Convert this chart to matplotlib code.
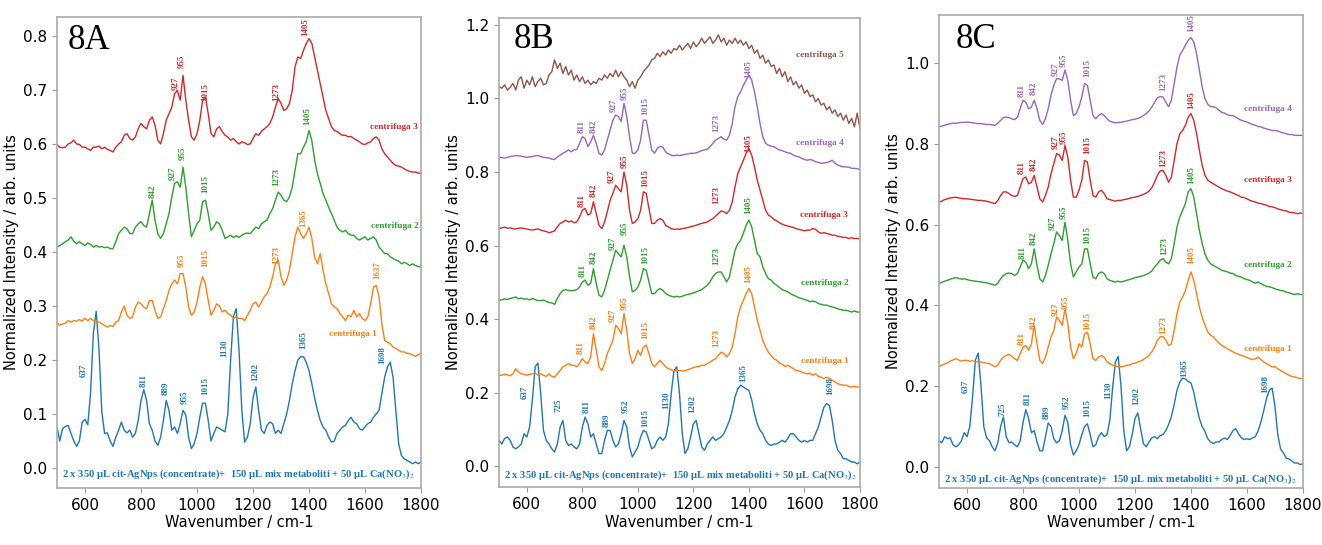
import numpy as np
import matplotlib
matplotlib.use("Agg")
import matplotlib.pyplot as plt

plt.rcParams['font.family'] = ['DejaVu Sans']
plt.rcParams['mathtext.fontset'] = 'stix'

# ---------------- data ----------------
wavenumber = np.arange(500, 1801, 10)

A_blue = [0.076, 0.05, 0.073, 0.077, 0.079, 0.064, 0.05, 0.04, 0.05, 0.085,
          0.09, 0.08, 0.14, 0.25, 0.29, 0.22, 0.105, 0.064, 0.065, 0.05,
          0.04, 0.057, 0.07, 0.085, 0.07, 0.065, 0.07, 0.057, 0.064, 0.088,
          0.125, 0.145, 0.125, 0.082, 0.07, 0.05, 0.042, 0.057, 0.088, 0.125,
          0.107, 0.07, 0.076, 0.064, 0.082, 0.107, 0.098, 0.057, 0.036, 0.045,
          0.064, 0.094, 0.12, 0.12, 0.088, 0.05, 0.064, 0.076, 0.073, 0.07,
          0.067, 0.1, 0.2, 0.28, 0.295, 0.218, 0.107, 0.048, 0.057, 0.082,
          0.13, 0.15, 0.107, 0.07, 0.064, 0.079, 0.085, 0.082, 0.064, 0.07,
          0.064, 0.082, 0.1, 0.125, 0.156, 0.18, 0.2, 0.206, 0.206, 0.196,
          0.18, 0.156, 0.13, 0.107, 0.088, 0.076, 0.07, 0.057, 0.048, 0.05,
          0.064, 0.07, 0.076, 0.079, 0.088, 0.094, 0.085, 0.082, 0.073, 0.07,
          0.076, 0.082, 0.085, 0.094, 0.1, 0.107, 0.138, 0.168, 0.187, 0.196,
          0.168, 0.107, 0.045, 0.023, 0.017, 0.014, 0.011, 0.008, 0.011, 0.008,
          0.011]
A_c1 = [0.27, 0.264, 0.267, 0.268, 0.273, 0.27, 0.273, 0.272, 0.275, 0.272,
        0.277, 0.273, 0.277, 0.273, 0.273, 0.27, 0.267, 0.264, 0.261, 0.264,
        0.262, 0.27, 0.273, 0.289, 0.3, 0.283, 0.277, 0.28, 0.298, 0.307,
        0.304, 0.298, 0.295, 0.31, 0.31, 0.292, 0.277, 0.28, 0.295, 0.31,
        0.329, 0.341, 0.348, 0.341, 0.36, 0.36, 0.335, 0.298, 0.283, 0.289,
        0.307, 0.335, 0.354, 0.341, 0.31, 0.283, 0.292, 0.304, 0.3, 0.289,
        0.292, 0.286, 0.283, 0.277, 0.28, 0.277, 0.277, 0.273, 0.283, 0.292,
        0.304, 0.307, 0.298, 0.307, 0.317, 0.323, 0.335, 0.354, 0.378, 0.385,
        0.354, 0.338, 0.348, 0.366, 0.397, 0.428, 0.446, 0.434, 0.425, 0.434,
        0.446, 0.425, 0.39, 0.378, 0.397, 0.366, 0.341, 0.323, 0.304, 0.298,
        0.295, 0.286, 0.28, 0.273, 0.283, 0.28, 0.292, 0.28, 0.286, 0.277,
        0.273, 0.28, 0.304, 0.335, 0.338, 0.317, 0.267, 0.236, 0.233, 0.23,
        0.224, 0.221, 0.218, 0.215, 0.215, 0.212, 0.212, 0.209, 0.207, 0.21,
        0.212]
A_c2 = [0.409, 0.412, 0.415, 0.419, 0.422, 0.428, 0.42, 0.415, 0.419, 0.415,
        0.412, 0.417, 0.414, 0.409, 0.412, 0.409, 0.41, 0.408, 0.409, 0.406,
        0.406, 0.419, 0.434, 0.44, 0.446, 0.443, 0.434, 0.434, 0.446, 0.452,
        0.456, 0.449, 0.446, 0.471, 0.496, 0.459, 0.434, 0.425, 0.434, 0.452,
        0.471, 0.502, 0.527, 0.53, 0.52, 0.557, 0.52, 0.471, 0.428, 0.44,
        0.452, 0.459, 0.493, 0.496, 0.471, 0.44, 0.446, 0.456, 0.452, 0.44,
        0.425, 0.428, 0.431, 0.427, 0.43, 0.427, 0.431, 0.434, 0.435, 0.434,
        0.44, 0.446, 0.443, 0.452, 0.456, 0.459, 0.471, 0.48, 0.496, 0.511,
        0.505, 0.496, 0.493, 0.502, 0.52, 0.551, 0.582, 0.582, 0.594, 0.604,
        0.625, 0.606, 0.57, 0.545, 0.527, 0.508, 0.496, 0.483, 0.471, 0.459,
        0.446, 0.44, 0.437, 0.44, 0.434, 0.431, 0.431, 0.425, 0.422, 0.425,
        0.428, 0.422, 0.425, 0.428, 0.422, 0.409, 0.403, 0.397, 0.397, 0.391,
        0.388, 0.385, 0.383, 0.378, 0.381, 0.378, 0.375, 0.378, 0.375, 0.373,
        0.372]
A_c3 = [0.598, 0.594, 0.593, 0.594, 0.6, 0.602, 0.607, 0.6, 0.599, 0.594,
        0.594, 0.591, 0.588, 0.594, 0.594, 0.596, 0.591, 0.594, 0.59, 0.588,
        0.585, 0.594, 0.6, 0.604, 0.616, 0.619, 0.61, 0.607, 0.613, 0.628,
        0.638, 0.632, 0.628, 0.644, 0.65, 0.635, 0.607, 0.6, 0.619, 0.644,
        0.656, 0.668, 0.693, 0.699, 0.681, 0.727, 0.681, 0.644, 0.613, 0.607,
        0.619, 0.644, 0.681, 0.687, 0.656, 0.619, 0.613, 0.628, 0.632, 0.623,
        0.616, 0.613, 0.607, 0.61, 0.604, 0.6, 0.604, 0.602, 0.599, 0.6,
        0.61, 0.619, 0.616, 0.623, 0.628, 0.632, 0.638, 0.65, 0.668, 0.684,
        0.675, 0.662, 0.665, 0.675, 0.699, 0.743, 0.761, 0.758, 0.773, 0.786,
        0.795, 0.786, 0.761, 0.736, 0.712, 0.687, 0.662, 0.647, 0.632, 0.625,
        0.623, 0.619, 0.616, 0.616, 0.613, 0.614, 0.61, 0.607, 0.604, 0.6,
        0.599, 0.602, 0.604, 0.61, 0.613, 0.607, 0.591, 0.582, 0.576, 0.57,
        0.564, 0.56, 0.559, 0.557, 0.554, 0.551, 0.549, 0.548, 0.548, 0.546,
        0.546]

B_blue = [0.07, 0.06, 0.075, 0.079, 0.07, 0.052, 0.047, 0.052, 0.06, 0.088,
          0.079, 0.106, 0.18, 0.27, 0.28, 0.197, 0.097, 0.07, 0.06, 0.047,
          0.038, 0.06, 0.106, 0.124, 0.07, 0.056, 0.06, 0.052, 0.047, 0.06,
          0.106, 0.133, 0.115, 0.079, 0.088, 0.06, 0.034, 0.034, 0.07, 0.097,
          0.097, 0.07, 0.052, 0.06, 0.088, 0.124, 0.106, 0.052, 0.025, 0.038,
          0.052, 0.079, 0.097, 0.093, 0.07, 0.047, 0.052, 0.07, 0.079, 0.07,
          0.079, 0.115, 0.197, 0.26, 0.27, 0.197, 0.088, 0.034, 0.047, 0.079,
          0.115, 0.124, 0.088, 0.052, 0.043, 0.06, 0.07, 0.079, 0.07, 0.075,
          0.079, 0.088, 0.106, 0.124, 0.152, 0.188, 0.21, 0.22, 0.215, 0.21,
          0.206, 0.18, 0.143, 0.115, 0.097, 0.088, 0.07, 0.06, 0.056, 0.06,
          0.06, 0.065, 0.07, 0.065, 0.075, 0.088, 0.088, 0.079, 0.07, 0.065,
          0.07, 0.065, 0.07, 0.07, 0.088, 0.106, 0.133, 0.16, 0.17, 0.165,
          0.124, 0.07, 0.043, 0.034, 0.02, 0.02, 0.015, 0.011, 0.011, 0.006,
          0.011]
B_c1 = [0.247, 0.247, 0.25, 0.248, 0.246, 0.251, 0.265, 0.256, 0.251, 0.25,
        0.247, 0.25, 0.251, 0.253, 0.247, 0.251, 0.247, 0.244, 0.251, 0.244,
        0.242, 0.251, 0.26, 0.27, 0.274, 0.279, 0.274, 0.274, 0.27, 0.279,
        0.292, 0.283, 0.279, 0.297, 0.36, 0.315, 0.27, 0.26, 0.279, 0.306,
        0.324, 0.342, 0.383, 0.374, 0.36, 0.415, 0.369, 0.306, 0.279, 0.292,
        0.315, 0.301, 0.324, 0.329, 0.306, 0.279, 0.27, 0.279, 0.288, 0.279,
        0.27, 0.265, 0.262, 0.26, 0.259, 0.26, 0.259, 0.26, 0.262, 0.265,
        0.268, 0.27, 0.271, 0.274, 0.274, 0.279, 0.283, 0.288, 0.292, 0.301,
        0.31, 0.306, 0.297, 0.306, 0.324, 0.36, 0.406, 0.433, 0.451, 0.469,
        0.483, 0.469, 0.433, 0.397, 0.369, 0.342, 0.324, 0.31, 0.301, 0.292,
        0.288, 0.28, 0.277, 0.271, 0.274, 0.27, 0.265, 0.26, 0.259, 0.256,
        0.253, 0.251, 0.253, 0.247, 0.251, 0.244, 0.242, 0.238, 0.242, 0.238,
        0.233, 0.229, 0.224, 0.222, 0.22, 0.22, 0.217, 0.215, 0.217, 0.215,
        0.215]
B_c2 = [0.451, 0.452, 0.455, 0.453, 0.456, 0.458, 0.46, 0.455, 0.457, 0.454,
        0.455, 0.452, 0.456, 0.453, 0.45, 0.45, 0.452, 0.448, 0.445, 0.444,
        0.44, 0.456, 0.469, 0.478, 0.48, 0.478, 0.477, 0.478, 0.48, 0.487,
        0.501, 0.506, 0.492, 0.497, 0.537, 0.497, 0.465, 0.46, 0.478, 0.506,
        0.533, 0.56, 0.587, 0.578, 0.569, 0.601, 0.569, 0.515, 0.474, 0.478,
        0.487, 0.506, 0.537, 0.533, 0.501, 0.469, 0.469, 0.478, 0.483, 0.478,
        0.469, 0.465, 0.462, 0.46, 0.462, 0.46, 0.462, 0.465, 0.467, 0.469,
        0.471, 0.474, 0.477, 0.48, 0.486, 0.492, 0.501, 0.515, 0.524, 0.528,
        0.528, 0.515, 0.501, 0.515, 0.551, 0.587, 0.605, 0.614, 0.633, 0.655,
        0.669, 0.651, 0.614, 0.578, 0.569, 0.542, 0.524, 0.51, 0.506, 0.497,
        0.492, 0.486, 0.48, 0.477, 0.474, 0.469, 0.465, 0.462, 0.458, 0.456,
        0.453, 0.451, 0.447, 0.449, 0.447, 0.442, 0.44, 0.438, 0.438, 0.435,
        0.433, 0.431, 0.428, 0.426, 0.424, 0.424, 0.422, 0.419, 0.422, 0.419,
        0.419]
B_c3 = [0.646, 0.648, 0.65, 0.647, 0.648, 0.646, 0.645, 0.647, 0.648, 0.646,
        0.645, 0.643, 0.642, 0.644, 0.645, 0.642, 0.64, 0.638, 0.635, 0.637,
        0.64, 0.651, 0.66, 0.664, 0.669, 0.664, 0.667, 0.662, 0.664, 0.678,
        0.696, 0.701, 0.683, 0.687, 0.719, 0.687, 0.655, 0.646, 0.664, 0.692,
        0.723, 0.742, 0.764, 0.755, 0.746, 0.8, 0.764, 0.696, 0.66, 0.664,
        0.673, 0.696, 0.746, 0.742, 0.701, 0.66, 0.66, 0.669, 0.673, 0.669,
        0.655, 0.651, 0.646, 0.644, 0.645, 0.644, 0.646, 0.647, 0.649, 0.651,
        0.653, 0.655, 0.658, 0.66, 0.662, 0.664, 0.669, 0.673, 0.68, 0.687,
        0.694, 0.692, 0.687, 0.696, 0.719, 0.76, 0.796, 0.814, 0.832, 0.851,
        0.864, 0.846, 0.814, 0.778, 0.751, 0.723, 0.696, 0.683, 0.678, 0.671,
        0.667, 0.662, 0.658, 0.655, 0.653, 0.651, 0.649, 0.646, 0.644, 0.642,
        0.64, 0.642, 0.642, 0.646, 0.644, 0.637, 0.633, 0.635, 0.633, 0.631,
        0.628, 0.628, 0.625, 0.624, 0.622, 0.622, 0.619, 0.621, 0.619, 0.619,
        0.619]
B_c4 = [0.841, 0.839, 0.838, 0.84, 0.842, 0.843, 0.845, 0.844, 0.843, 0.841,
        0.84, 0.841, 0.842, 0.844, 0.845, 0.842, 0.84, 0.839, 0.838, 0.835,
        0.834, 0.841, 0.846, 0.851, 0.855, 0.86, 0.855, 0.86, 0.861, 0.878,
        0.896, 0.891, 0.869, 0.882, 0.9, 0.878, 0.851, 0.846, 0.86, 0.887,
        0.914, 0.941, 0.955, 0.951, 0.937, 0.987, 0.951, 0.896, 0.851, 0.851,
        0.86, 0.887, 0.941, 0.941, 0.9, 0.86, 0.851, 0.864, 0.87, 0.867,
        0.855, 0.849, 0.846, 0.844, 0.846, 0.845, 0.846, 0.848, 0.849, 0.851,
        0.851, 0.852, 0.855, 0.858, 0.86, 0.862, 0.869, 0.878, 0.887, 0.891,
        0.896, 0.889, 0.887, 0.9, 0.932, 0.978, 1.005, 1.018, 1.036, 1.05,
        1.064, 1.05, 1.018, 0.978, 0.932, 0.896, 0.878, 0.873, 0.87, 0.869,
        0.864, 0.86, 0.858, 0.855, 0.852, 0.851, 0.846, 0.843, 0.841, 0.837,
        0.834, 0.832, 0.834, 0.832, 0.828, 0.826, 0.824, 0.824, 0.826, 0.828,
        0.832, 0.824, 0.819, 0.816, 0.814, 0.814, 0.813, 0.81, 0.81, 0.809,
        0.807]
B_c5 = [1.032, 1.028, 1.037, 1.023, 1.03, 1.041, 1.023, 1.05, 1.059, 1.028,
        1.05, 1.037, 1.059, 1.032, 1.046, 1.055, 1.037, 1.041, 1.064, 1.073,
        1.105, 1.082, 1.096, 1.068, 1.087, 1.064, 1.077, 1.05, 1.064, 1.046,
        1.059, 1.041, 1.05, 1.037, 1.046, 1.041, 1.055, 1.05, 1.064, 1.055,
        1.068, 1.059, 1.077, 1.059, 1.073, 1.059, 1.05, 1.032, 1.046, 1.028,
        1.05, 1.059, 1.073, 1.082, 1.091, 1.105, 1.109, 1.123, 1.114, 1.127,
        1.118, 1.132, 1.123, 1.136, 1.132, 1.145, 1.132, 1.141, 1.15, 1.136,
        1.154, 1.141, 1.15, 1.164, 1.15, 1.159, 1.168, 1.15, 1.159, 1.173,
        1.154, 1.164, 1.145, 1.159, 1.15, 1.164, 1.15, 1.159, 1.145, 1.154,
        1.136, 1.145, 1.123, 1.132, 1.109, 1.118, 1.096, 1.105, 1.087, 1.091,
        1.068, 1.082, 1.059, 1.073, 1.046, 1.059, 1.037, 1.046, 1.028, 1.037,
        1.014, 1.023, 1.005, 1.01, 0.991, 1.0, 0.982, 0.987, 0.969, 0.978,
        0.96, 0.969, 0.951, 0.96, 0.941, 0.955, 0.932, 0.946, 0.923, 0.96,
        0.919]

C_blue = [0.065, 0.06, 0.075, 0.07, 0.072, 0.055, 0.05, 0.055, 0.065, 0.085,
          0.075, 0.1, 0.175, 0.265, 0.282, 0.2, 0.1, 0.072, 0.065, 0.05,
          0.04, 0.06, 0.1, 0.124, 0.075, 0.06, 0.062, 0.055, 0.05, 0.065,
          0.11, 0.142, 0.12, 0.085, 0.09, 0.062, 0.04, 0.04, 0.075, 0.109,
          0.1, 0.07, 0.06, 0.065, 0.09, 0.128, 0.11, 0.055, 0.03, 0.04,
          0.055, 0.08, 0.1, 0.107, 0.08, 0.05, 0.055, 0.075, 0.085, 0.075,
          0.08, 0.115, 0.195, 0.26, 0.274, 0.2, 0.09, 0.04, 0.05, 0.08,
          0.12, 0.134, 0.095, 0.058, 0.05, 0.062, 0.072, 0.075, 0.07, 0.078,
          0.08, 0.09, 0.105, 0.125, 0.155, 0.19, 0.21, 0.22, 0.218, 0.212,
          0.208, 0.185, 0.15, 0.12, 0.1, 0.088, 0.07, 0.062, 0.058, 0.062,
          0.062, 0.068, 0.072, 0.068, 0.078, 0.09, 0.095, 0.082, 0.072, 0.068,
          0.07, 0.068, 0.072, 0.075, 0.09, 0.112, 0.14, 0.17, 0.19, 0.195,
          0.15, 0.08, 0.045, 0.035, 0.022, 0.02, 0.015, 0.01, 0.01, 0.006,
          0.008]
C_c1 = [0.248, 0.252, 0.255, 0.258, 0.262, 0.265, 0.268, 0.265, 0.262, 0.264,
        0.264, 0.262, 0.263, 0.26, 0.261, 0.26, 0.258, 0.257, 0.256, 0.252,
        0.248, 0.252, 0.264, 0.272, 0.276, 0.279, 0.274, 0.268, 0.264, 0.281,
        0.297, 0.301, 0.289, 0.305, 0.351, 0.305, 0.264, 0.256, 0.272, 0.297,
        0.322, 0.338, 0.371, 0.363, 0.351, 0.392, 0.355, 0.297, 0.268, 0.281,
        0.305, 0.297, 0.33, 0.334, 0.305, 0.268, 0.264, 0.272, 0.276, 0.272,
        0.26, 0.256, 0.252, 0.249, 0.249, 0.248, 0.249, 0.252, 0.252, 0.256,
        0.257, 0.26, 0.262, 0.266, 0.271, 0.276, 0.285, 0.297, 0.314, 0.322,
        0.323, 0.314, 0.301, 0.305, 0.338, 0.38, 0.408, 0.421, 0.437, 0.462,
        0.483, 0.462, 0.429, 0.396, 0.371, 0.351, 0.334, 0.326, 0.322, 0.314,
        0.307, 0.301, 0.297, 0.293, 0.289, 0.285, 0.282, 0.279, 0.276, 0.274,
        0.271, 0.268, 0.266, 0.268, 0.272, 0.266, 0.26, 0.256, 0.252, 0.248,
        0.249, 0.243, 0.239, 0.235, 0.231, 0.227, 0.224, 0.223, 0.221, 0.219,
        0.219]
C_c2 = [0.454, 0.457, 0.46, 0.462, 0.465, 0.467, 0.469, 0.467, 0.465, 0.466,
        0.464, 0.462, 0.461, 0.46, 0.459, 0.458, 0.457, 0.456, 0.454, 0.452,
        0.45, 0.455, 0.466, 0.474, 0.479, 0.48, 0.479, 0.474, 0.479, 0.495,
        0.512, 0.507, 0.491, 0.503, 0.54, 0.499, 0.466, 0.458, 0.474, 0.499,
        0.528, 0.553, 0.582, 0.573, 0.561, 0.606, 0.561, 0.503, 0.47, 0.483,
        0.495, 0.503, 0.54, 0.54, 0.503, 0.47, 0.466, 0.479, 0.483, 0.479,
        0.466, 0.462, 0.46, 0.458, 0.46, 0.458, 0.46, 0.462, 0.464, 0.466,
        0.469, 0.47, 0.472, 0.474, 0.477, 0.48, 0.485, 0.495, 0.503, 0.512,
        0.516, 0.507, 0.503, 0.516, 0.553, 0.594, 0.619, 0.635, 0.652, 0.681,
        0.689, 0.668, 0.627, 0.586, 0.553, 0.528, 0.512, 0.503, 0.499, 0.495,
        0.491, 0.487, 0.485, 0.483, 0.48, 0.479, 0.474, 0.472, 0.47, 0.466,
        0.464, 0.462, 0.458, 0.455, 0.458, 0.454, 0.45, 0.447, 0.446, 0.444,
        0.441, 0.439, 0.437, 0.436, 0.433, 0.431, 0.429, 0.427, 0.429, 0.427,
        0.427]
C_c3 = [0.656, 0.658, 0.662, 0.664, 0.666, 0.667, 0.668, 0.666, 0.665, 0.664,
        0.664, 0.663, 0.662, 0.661, 0.66, 0.66, 0.659, 0.658, 0.656, 0.654,
        0.652, 0.66, 0.672, 0.681, 0.681, 0.677, 0.672, 0.67, 0.672, 0.693,
        0.714, 0.718, 0.701, 0.705, 0.722, 0.693, 0.664, 0.656, 0.672, 0.693,
        0.726, 0.751, 0.776, 0.772, 0.759, 0.796, 0.767, 0.71, 0.668, 0.668,
        0.685, 0.71, 0.759, 0.755, 0.71, 0.672, 0.668, 0.681, 0.685, 0.677,
        0.664, 0.662, 0.66, 0.658, 0.66, 0.66, 0.662, 0.663, 0.665, 0.667,
        0.668, 0.67, 0.672, 0.675, 0.678, 0.683, 0.691, 0.705, 0.722, 0.733,
        0.734, 0.722, 0.705, 0.718, 0.759, 0.8, 0.825, 0.833, 0.846, 0.866,
        0.875, 0.858, 0.825, 0.784, 0.747, 0.722, 0.71, 0.705, 0.701, 0.697,
        0.693, 0.689, 0.686, 0.683, 0.681, 0.678, 0.675, 0.672, 0.668, 0.667,
        0.664, 0.66, 0.658, 0.656, 0.653, 0.652, 0.65, 0.648, 0.645, 0.644,
        0.642, 0.639, 0.637, 0.635, 0.634, 0.631, 0.63, 0.629, 0.627, 0.629,
        0.627]
C_c4 = [0.842, 0.844, 0.846, 0.848, 0.85, 0.851, 0.851, 0.852, 0.853, 0.853,
        0.854, 0.853, 0.852, 0.851, 0.85, 0.85, 0.849, 0.848, 0.848, 0.847,
        0.846, 0.851, 0.858, 0.865, 0.866, 0.865, 0.862, 0.86, 0.866, 0.887,
        0.908, 0.903, 0.887, 0.891, 0.908, 0.887, 0.858, 0.848, 0.862, 0.887,
        0.92, 0.945, 0.961, 0.961, 0.957, 0.983, 0.957, 0.908, 0.87, 0.875,
        0.891, 0.916, 0.949, 0.945, 0.908, 0.87, 0.862, 0.87, 0.875, 0.87,
        0.862, 0.856, 0.854, 0.852, 0.853, 0.853, 0.855, 0.856, 0.858, 0.86,
        0.861, 0.863, 0.866, 0.87, 0.875, 0.881, 0.891, 0.903, 0.914, 0.917,
        0.916, 0.903, 0.892, 0.908, 0.949, 0.99, 1.019, 1.031, 1.044, 1.056,
        1.063, 1.052, 1.023, 0.982, 0.941, 0.912, 0.898, 0.892, 0.892, 0.889,
        0.883, 0.878, 0.876, 0.872, 0.87, 0.87, 0.866, 0.862, 0.858, 0.856,
        0.854, 0.851, 0.848, 0.846, 0.843, 0.842, 0.839, 0.837, 0.835, 0.833,
        0.833, 0.832, 0.829, 0.827, 0.825, 0.823, 0.823, 0.821, 0.821, 0.821,
        0.821]

# peak labels: (text, wavenumber, intensity at label base)
A_peaks_blue = [("637", 596, 0.168), ("811", 811, 0.15), ("889", 888, 0.135), ("955", 955, 0.119),
                ("1015", 1031, 0.135), ("1130", 1096, 0.206), ("1202", 1207, 0.162),
                ("1365", 1380, 0.221), ("1698", 1663, 0.193)]
A_peaks_c1 = [("955", 945, 0.372), ("1015", 1031, 0.372), ("1273", 1282, 0.378),
              ("1365", 1380, 0.446), ("1637", 1642, 0.35)]
A_peaks_c2 = [("842", 842, 0.50), ("927", 915, 0.533), ("955", 949, 0.57), ("1015", 1031, 0.51),
              ("1273", 1282, 0.523), ("1405", 1394, 0.635)]
A_peaks_c3 = [("927", 924, 0.70), ("955", 945, 0.74), ("1015", 1031, 0.68),
              ("1273", 1282, 0.68), ("1405", 1386, 0.80)]

B_peaks_blue = [("637", 594, 0.183), ("725", 714, 0.147), ("811", 816, 0.143), ("889", 888, 0.106),
                ("952", 956, 0.143), ("1015", 1028, 0.106), ("1130", 1101, 0.156),
                ("1202", 1197, 0.143), ("1365", 1380, 0.229), ("1698", 1692, 0.192)]
B_peaks_c1 = [("811", 795, 0.306), ("842", 842, 0.374), ("927", 908, 0.392), ("955", 951, 0.424),
              ("1015", 1028, 0.347), ("1273", 1284, 0.324), ("1405", 1398, 0.497)]
B_peaks_c2 = [("811", 802, 0.515), ("842", 842, 0.551), ("927", 908, 0.587), ("955", 951, 0.628),
              ("1015", 1028, 0.551), ("1273", 1284, 0.546), ("1405", 1398, 0.687)]
B_peaks_c3 = [("811", 798, 0.705), ("842", 842, 0.733), ("927", 906, 0.769), ("955", 951, 0.81),
              ("1015", 1028, 0.76), ("1273", 1284, 0.714), ("1405", 1398, 0.855)]
B_peaks_c4 = [("811", 798, 0.905), ("842", 842, 0.907), ("927", 912, 0.964), ("955", 951, 0.996),
              ("1015", 1026, 0.955), ("1273", 1284, 0.91), ("1405", 1398, 1.055)]

C_peaks_blue = [("637", 595, 0.182), ("725", 726, 0.125), ("811", 817, 0.153), ("889", 885, 0.12),
                ("952", 956, 0.144), ("1015", 1030, 0.124), ("1130", 1105, 0.169),
                ("1202", 1204, 0.153), ("1365", 1375, 0.223), ("1698", 1664, 0.182)]
C_peaks_c1 = [("811", 795, 0.301), ("842", 839, 0.342), ("927", 917, 0.375), ("955", 953, 0.392),
              ("1015", 1030, 0.338), ("1273", 1301, 0.33), ("1405", 1402, 0.503)]
C_peaks_c2 = [("811", 798, 0.516), ("842", 839, 0.549), ("927", 906, 0.586), ("955", 944, 0.615),
              ("1015", 1030, 0.553), ("1273", 1303, 0.524), ("1405", 1402, 0.701)]
C_peaks_c3 = [("811", 795, 0.726), ("842", 839, 0.734), ("927", 917, 0.788), ("955", 944, 0.80),
              ("1015", 1030, 0.776), ("1273", 1301, 0.743), ("1405", 1402, 0.887)]
C_peaks_c4 = [("811", 795, 0.916), ("842", 839, 0.92), ("927", 917, 0.969), ("955", 944, 0.99),
              ("1015", 1030, 0.965), ("1273", 1301, 0.932), ("1405", 1402, 1.077)]

# series names: (text, right-edge wavenumber, intensity)
A_names = [("centrifuga 3", 1790, 0.631), ("centrifuga 2", 1790, 0.448), ("centrifuga 1", 1642, 0.249)]
B_names = [("centrifuga 5", 1740, 1.118), ("centrifuga 4", 1740, 0.878), ("centrifuga 3", 1758, 0.683),
           ("centrifuga 2", 1758, 0.497), ("centrifuga 1", 1758, 0.285)]
C_names = [("centrifuga 4", 1760, 0.887), ("centrifuga 3", 1760, 0.711),
           ("centrifuga 2", 1760, 0.501), ("centrifuga 1", 1760, 0.291)]

bottom_note = "2 x 350 µL cit-AgNps (concentrate)+  150 µL mix metaboliti + 50 µL Ca(NO$_3$)$_2$"

BLUE, ORANGE, GREEN, RED, PURPLE, BROWN = "#1f77b4", "#ff7f0e", "#2ca02c", "#d62728", "#9467bd", "#8c564b"

panels = [
    dict(tag="8A", rect=[0.0431, 0.1046, 0.2754, 0.8642], ylim=(-0.037, 0.835),
         yticks=np.arange(0, 0.81, 0.1), tagpos=(0.03, 0.932),
         series=[(A_blue, BLUE, A_peaks_blue), (A_c1, ORANGE, A_peaks_c1),
                 (A_c2, GREEN, A_peaks_c2), (A_c3, RED, A_peaks_c3)],
         names=A_names, name_colors=[RED, GREEN, ORANGE], note=(1148, -0.012)),
    dict(tag="8B", rect=[0.3775, 0.1064, 0.2730, 0.8606], ylim=(-0.057, 1.219),
         yticks=np.arange(0, 1.21, 0.2), tagpos=(0.039, 0.936),
         series=[(B_blue, BLUE, B_peaks_blue), (B_c1, ORANGE, B_peaks_c1),
                 (B_c2, GREEN, B_peaks_c2), (B_c3, RED, B_peaks_c3),
                 (B_c4, PURPLE, B_peaks_c4), (B_c5, BROWN, [])],
         names=B_names, name_colors=[BROWN, PURPLE, RED, GREEN, ORANGE], note=(1155, -0.025)),
    dict(tag="8C", rect=[0.7103, 0.1046, 0.2753, 0.8679], ylim=(-0.052, 1.119),
         yticks=np.arange(0, 1.01, 0.2), tagpos=(0.047, 0.930),
         series=[(C_blue, BLUE, C_peaks_blue), (C_c1, ORANGE, C_peaks_c1),
                 (C_c2, GREEN, C_peaks_c2), (C_c3, RED, C_peaks_c3),
                 (C_c4, PURPLE, C_peaks_c4)],
         names=C_names, name_colors=[PURPLE, RED, GREEN, ORANGE], note=(1148, -0.031)),
]

fig = plt.figure(figsize=(13.22, 5.45), dpi=100)
serif = ['Liberation Serif', 'DejaVu Serif']

for p in panels:
    ax = fig.add_axes(p["rect"])
    for vals, col, peaks in p["series"]:
        ax.plot(wavenumber, vals, color=col, lw=1.0)
        for txt, xw, yv in peaks:
            ax.text(xw, yv, txt, rotation=90, ha='center', va='bottom', color=col,
                    fontsize=6.5, fontweight='bold', family=serif)
    for (txt, xw, yv), col in zip(p["names"], p["name_colors"]):
        ax.text(xw, yv, txt, ha='right', va='center', color=col, fontsize=6.7,
                fontweight='bold', family=serif)
    ax.text(p["note"][0], p["note"][1], bottom_note, ha='center', va='center', color=BLUE,
            fontsize=7.6, fontweight='bold', family=serif)
    ax.text(p["tagpos"][0], p["tagpos"][1], p["tag"], transform=ax.transAxes, ha='left',
            va='baseline', fontsize=25, family=serif, color='black')
    ax.set_xlim(500, 1800)
    ax.set_ylim(*p["ylim"])
    ax.set_xticks([600, 800, 1000, 1200, 1400, 1600, 1800])
    ax.set_yticks(p["yticks"])
    ax.set_yticklabels([f"{v:.1f}" for v in p["yticks"]])
    ax.tick_params(labelsize=11, length=3.5, color='#999999', width=0.8)
    ax.set_xlabel("Wavenumber / cm-1", fontsize=10.5, labelpad=2)
    ax.set_ylabel("Normalized Intensity / arb. units", fontsize=10.5, labelpad=3)
    for s in ax.spines.values():
        s.set_color('#aaaaaa')
        s.set_linewidth(1.2)

fig.savefig("out.png", dpi=100)
